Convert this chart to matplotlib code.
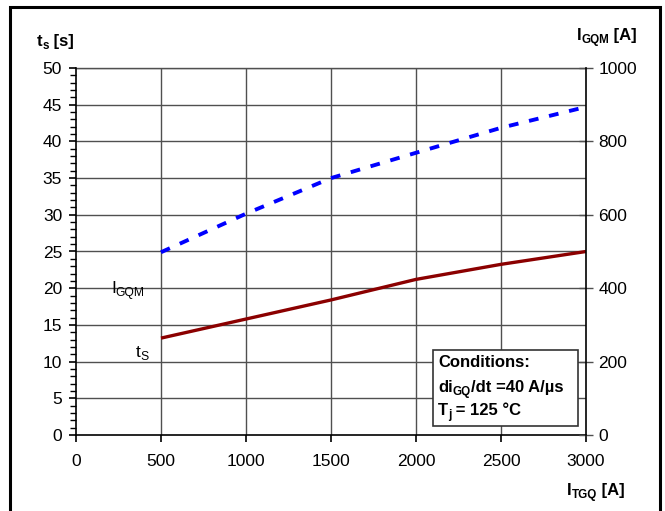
import matplotlib
matplotlib.use("Agg")
import matplotlib.pyplot as plt
from matplotlib.patches import Rectangle
from matplotlib.ticker import MultipleLocator
from matplotlib.transforms import IdentityTransform

plt.rcParams['font.family'] = ['Liberation Sans', 'DejaVu Sans']

i_tgq = [500, 1000, 1500, 2000, 2500, 3000]
t_s = [13.2, 15.8, 18.4, 21.2, 23.25, 25.0]
i_gqm = [498, 603, 700, 769, 837, 894]

x_ticks = [0, 500, 1000, 1500, 2000, 2500, 3000]
y_ticks = [0, 5, 10, 15, 20, 25, 30, 35, 40, 45, 50]
y2_ticks = [0, 200, 400, 600, 800, 1000]

W, H = 665, 511
fig = plt.figure(figsize=(6.65, 5.11), dpi=100)
ax = fig.add_axes([76/W, 1-435/H, 510/W, 367/H])
ax2 = ax.twinx()

gc = '#505050'
for v in x_ticks[1:-1]:
    ax.axvline(v, color=gc, lw=1.0, zorder=1)
for v in y_ticks[1:]:
    ax.axhline(v, color=gc, lw=1.0, zorder=1)

ax.plot(i_tgq, t_s, color='#8B0000', lw=2.4, zorder=3, solid_capstyle='butt')
ax2.plot(i_tgq, i_gqm, color='#0000FF', lw=2.8, zorder=3, dashes=(2.5, 2.8))

ax.set_xlim(0, 3000)
ax.set_ylim(0, 50)
ax2.set_ylim(0, 1000)
ax.set_xticks(x_ticks)
ax.set_yticks(y_ticks)
ax2.set_yticks(y2_ticks)
ax.yaxis.set_minor_locator(MultipleLocator(1))

fs = 12.5
ax.tick_params(axis='x', which='major', labelsize=fs, direction='out', length=5, width=1.2, color='black', pad=9)
ax.tick_params(axis='y', which='major', labelsize=fs, direction='out', length=5, width=1.2, color='black', pad=5)
ax.tick_params(axis='y', which='minor', direction='out', length=4, width=1.0)
ax2.tick_params(axis='y', which='major', labelsize=fs, direction='inout', length=10, width=1.0, color=gc, pad=4)

for a in (ax, ax2):
    for s in a.spines.values():
        s.set_visible(False)
for a, side in ((ax, 'left'), (ax, 'bottom'), (ax2, 'right')):
    a.spines[side].set_visible(True)
    a.spines[side].set_color('black')
    a.spines[side].set_linewidth(1.2)
ax.axhline(50, color=gc, lw=1.0, zorder=1, clip_on=False)

renderer = fig.canvas.get_renderer()


def rich(x, y, pieces, size, weight='normal', zorder=6):
    """Draw text made of normal and subscript pieces; x,y in pixels from top-left (baseline)."""
    px = x
    py = H - y
    for txt, kind in pieces:
        if kind == 's':
            s = size * 0.7
            dy = -size * 1.389 * 0.16
        else:
            s = size
            dy = 0
        t = fig.text(px, py + dy, txt, fontsize=s, fontweight=weight, ha='left', va='baseline',
                     transform=IdentityTransform(), zorder=zorder)
        px += t.get_window_extent(renderer).width


# axis titles
rich(37, 46, [('t', 'n'), ('s', 's'), (' [s]', 'n')], 12, 'bold')
rich(577, 40, [('I', 'n'), ('GQM', 's'), (' [A]', 'n')], 12, 'bold')
rich(567, 495, [('I', 'n'), ('TGQ', 's'), (' [A]', 'n')], 12, 'bold')

# curve labels
rich(111, 293, [('I', 'n'), ('GQM', 's')], 12.5)
rich(136, 357, [('t', 'n'), ('S', 's')], 12.5)

# conditions box
fig.patches.append(Rectangle((433/W, 1-426/H), 145/W, 76/H, transform=fig.transFigure,
                             facecolor='white', edgecolor='#333333', lw=1.2, zorder=5))
cfs = 12
rich(438, 367, [('Conditions:', 'n')], cfs, 'bold')
rich(438, 392, [('di', 'n'), ('GQ', 's'), ('/dt =40 A/µs', 'n')], cfs, 'bold')
rich(438, 415, [('T', 'n'), ('j', 's'), (' = 125 °C', 'n')], cfs, 'bold')

# outer frame
fig.patches.append(Rectangle((10/W, -0.01), 650/W, 1-7/H+0.01, transform=fig.transFigure,
                             facecolor='none', edgecolor='black', lw=2.2, zorder=10))

fig.savefig('out.png', dpi=100)
